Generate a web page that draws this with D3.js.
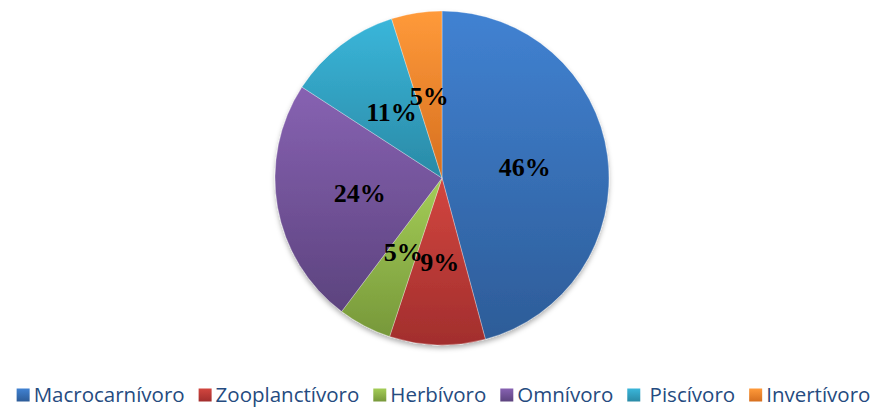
<!DOCTYPE html>
<html>
<head>
<meta charset="utf-8">
<script src="https://cdn.jsdelivr.net/npm/d3@7"></script>
<style>
  body { margin: 0; background: #fff; }
  svg { display: block; }
</style>
</head>
<body>
<script>

// Trophic guilds and their share (%)
var categories = ['Macrocarnívoro', 'Zooplanctívoro', 'Herbívoro', 'Omnívoro', ' Piscívoro', 'Invertívoro'];
var values = [46, 9.3, 5.2, 24, 11, 4.9];
var valueLabels = ['46%', '9%', '5%', '24%', '11%', '5%'];

// Office-like gradient colours, light (top) to dark (bottom)
var topColors = ['#4182d2', '#d2463f', '#a4cd57', '#8762b2', '#3ab6da', '#ff9a3a'];
var bottomColors = ['#2d5c98', '#a22e2d', '#77983a', '#5c437e', '#2a8aa6', '#d66f1f'];

var width = 885, height = 408;
var cx = 442, cy = 178, radius = 167;

var svg = d3.select('body').append('svg')
  .attr('width', width)
  .attr('height', height);

var defs = svg.append('defs');

// soft shadow under the pie
var shadow = defs.append('filter')
  .attr('id', 'shadow')
  .attr('x', '-10%').attr('y', '-10%')
  .attr('width', '120%').attr('height', '125%');
shadow.append('feDropShadow')
  .attr('dx', 0).attr('dy', 3)
  .attr('stdDeviation', 2.5)
  .attr('flood-color', '#000')
  .attr('flood-opacity', 0.3);

var pie = d3.pie().sort(null).value(function(d) { return d; });
var arcs = pie(values);

var arc = d3.arc().innerRadius(0).outerRadius(radius);
var labelArc = d3.arc().innerRadius(radius * 0.5).outerRadius(radius * 0.5);

// one vertical gradient per slice, fitted to the slice's own box
arcs.forEach(function(a, i) {
  var probe = svg.append('path').attr('d', arc(a));
  var box = probe.node().getBBox();
  probe.remove();
  var g = defs.append('linearGradient')
    .attr('id', 'grad' + i)
    .attr('gradientUnits', 'userSpaceOnUse')
    .attr('x1', 0).attr('x2', 0)
    .attr('y1', box.y).attr('y2', box.y + box.height);
  g.append('stop').attr('offset', '0%').attr('stop-color', topColors[i]);
  g.append('stop').attr('offset', '100%').attr('stop-color', bottomColors[i]);
});

var pieG = svg.append('g')
  .attr('transform', 'translate(' + cx + ',' + cy + ')');

pieG.append('g')
  .attr('filter', 'url(#shadow)')
  .selectAll('path')
  .data(arcs)
  .enter()
  .append('path')
  .attr('d', arc)
  .attr('fill', function(d, i) { return 'url(#grad' + i + ')'; })
  .attr('stroke', 'rgba(255,255,255,0.5)')
  .attr('stroke-width', 0.6);

pieG.selectAll('text.val')
  .data(arcs)
  .enter()
  .append('text')
  .attr('class', 'val')
  .attr('transform', function(d) { return 'translate(' + labelArc.centroid(d) + ')'; })
  .attr('text-anchor', 'middle')
  .attr('dy', '0.35em')
  .style('font-family', '"Liberation Serif", "Times New Roman", serif')
  .style('font-weight', 'bold')
  .style('font-size', '26px')
  .style('fill', '#000')
  .text(function(d, i) { return valueLabels[i]; });

// legend, centred under the pie
categories.forEach(function(c, i) {
  var g = defs.append('linearGradient')
    .attr('id', 'lgrad' + i)
    .attr('x1', 0).attr('x2', 0).attr('y1', 0).attr('y2', 1);
  g.append('stop').attr('offset', '0%').attr('stop-color', topColors[i]);
  g.append('stop').attr('offset', '100%').attr('stop-color', bottomColors[i]);
});

var legend = svg.append('g');
var items = legend.selectAll('g')
  .data(categories)
  .enter()
  .append('g');

items.append('rect')
  .attr('width', 13).attr('height', 13)
  .attr('y', 388.5)
  .attr('fill', function(d, i) { return 'url(#lgrad' + i + ')'; });

items.append('text')
  .attr('x', 17)
  .attr('y', 402)
  .style('font-family', '"Open Sans", sans-serif')
  .style('font-size', '20.5px')
  .style('fill', '#254b80')
  .style('white-space', 'pre')
  .text(function(d) { return d; });

var gap = 14, xPos = 0, offsets = [];
items.each(function() {
  offsets.push(xPos);
  xPos += 17 + d3.select(this).select('text').node().getComputedTextLength() + gap;
});
var total = xPos - gap;
var startX = cx + 1.5 - total / 2;
items.attr('transform', function(d, i) { return 'translate(' + (startX + offsets[i]) + ',0)'; });

</script>
</body>
</html>
